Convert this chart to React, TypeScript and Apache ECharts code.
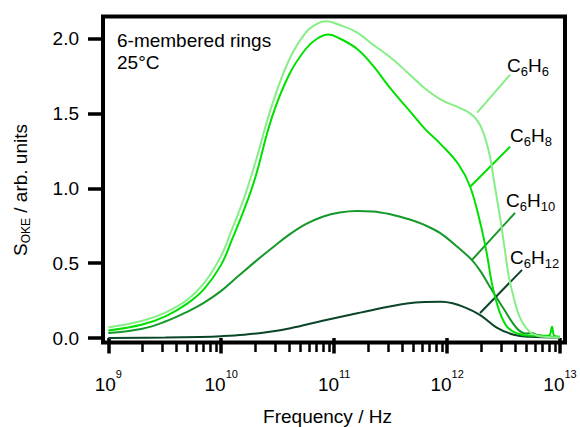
import React, { useEffect, useRef } from "react";
import * as echarts from "echarts";

const FONT = "'Liberation Sans', Arial, Helvetica, sans-serif";

// Frequencies in GHz, OKE spectral density in arb. units
const freqC6H6 = [1, 2, 3.2, 5, 7.1, 10, 12.5, 16, 20, 28, 40, 56, 71, 85, 112, 160, 220, 320, 450, 630, 890, 1260, 1600, 1860, 2100, 2400, 2600, 2950, 3200, 3500, 3800, 4200, 4600, 5400, 6300, 7600, 10000];
const valC6H6 = [0.07, 0.115, 0.17, 0.255, 0.37, 0.55, 0.73, 0.94, 1.17, 1.55, 1.86, 2.04, 2.1, 2.115, 2.09, 2.04, 1.96, 1.87, 1.77, 1.67, 1.59, 1.54, 1.5, 1.45, 1.37, 1.21, 1.05, 0.8, 0.62, 0.42, 0.3, 0.18, 0.11, 0.04, 0.015, 0.007, 0.004];

const freqC6H8 = [1, 2, 3.2, 5, 7.1, 10, 12.5, 16, 20, 28, 40, 56, 71, 89, 112, 160, 220, 320, 450, 630, 890, 1260, 1600, 1950, 2240, 2500, 2900, 3400, 4200, 5600, 7600, 8100, 8500, 8900, 10000];
const valC6H8 = [0.05, 0.09, 0.145, 0.23, 0.33, 0.49, 0.66, 0.86, 1.07, 1.47, 1.76, 1.93, 2.0, 2.027, 2.0, 1.93, 1.82, 1.66, 1.53, 1.4, 1.29, 1.16, 1.01, 0.78, 0.57, 0.36, 0.18, 0.075, 0.03, 0.015, 0.015, 0.02, 0.075, 0.015, 0.008];

const freqC6H10 = [1, 2, 3.2, 5, 7, 10, 14, 20, 28, 40, 56, 79, 112, 160, 220, 320, 450, 630, 870, 1230, 1660, 2000, 2400, 3200, 4200, 5000, 5600, 6300, 7900, 10000];
const valC6H10 = [0.033, 0.062, 0.11, 0.175, 0.235, 0.315, 0.41, 0.51, 0.6, 0.69, 0.76, 0.81, 0.838, 0.848, 0.845, 0.825, 0.795, 0.755, 0.7, 0.61, 0.52, 0.44, 0.34, 0.19, 0.06, 0.03, 0.033, 0.02, 0.01, 0.005];

const freqC6H12 = [1, 3.2, 6.5, 10, 16, 26, 41, 79, 160, 310, 440, 630, 890, 1120, 1380, 1950, 2750, 3900, 5400, 10000];
const valC6H12 = [0.0, 0.003, 0.007, 0.012, 0.022, 0.04, 0.065, 0.115, 0.165, 0.21, 0.23, 0.24, 0.242, 0.232, 0.21, 0.155, 0.07, 0.022, 0.008, 0.003];

// Axis ticks
const majorExponents = [9, 10, 11, 12, 13];
const minorMultipliers = [2, 3, 4, 5, 6, 7, 8, 9];
const yTicks = [0, 0.5, 1.0, 1.5, 2.0];

// Series labels (C6Hn) and colours
const hCounts = ["6", "8", "10", "12"];
const colors = ["#86ee86", "#00e000", "#15982a", "#0b4528"];

// Leader lines and label anchors (GHz, value)
const leaderStartGHz = [1845, 1600, 1663, 1959];
const leaderStartVal = [1.505, 1.01, 0.522, 0.167];
const leaderEndGHz = [3614, 3614, 4000, 4613];
const leaderEndVal = [1.759, 1.278, 0.836, 0.455];
const labelGHz = [3396, 3614, 3327, 3614];
const labelVal = [1.817, 1.35, 0.92, 0.535];

const lx = (ghz: number) => 9 + Math.log10(ghz);

export default function App() {
  const ref = useRef<HTMLDivElement>(null);
  useEffect(() => {
    document.body.style.margin = "0";
    const chart = echarts.init(ref.current!, null, { renderer: "svg" });

    const freqs = [freqC6H6, freqC6H8, freqC6H10, freqC6H12];
    const vals = [valC6H6, valC6H8, valC6H10, valC6H12];

    const minorTicks: number[] = [];
    for (let e = 9; e < 13; e++) {
      for (const m of minorMultipliers) minorTicks.push(e + Math.log10(m));
    }

    const xMin = 8.953;
    const xMax = 13.044;

    const series: any[] = [];
    for (let k = 3; k >= 0; k--) {
      series.push({
        type: "line",
        name: "C6H" + hCounts[k],
        xAxisIndex: 0,
        data: freqs[k].map((g, i) => [lx(g), vals[k][i]]),
        showSymbol: false,
        smooth: 0.4,
        lineStyle: { color: colors[k], width: 2 },
        itemStyle: { color: colors[k] },
        z: 3 + (3 - k),
        markLine: {
          silent: true,
          symbol: ["none", "none"],
          lineStyle: { color: colors[k], width: 2, type: "solid" },
          label: { show: false },
          emphasis: { disabled: true },
          data: [
            [
              { coord: [lx(leaderStartGHz[k]), leaderStartVal[k]] },
              { coord: [lx(leaderEndGHz[k]), leaderEndVal[k]] },
            ],
          ],
        },
        markPoint: {
          silent: true,
          symbol: "circle",
          symbolSize: 0,
          label: {
            show: true,
            position: "right",
            distance: 0,
            color: "#000",
            fontFamily: FONT,
            formatter: `{b|C}{s|6}{b|H}{s|${hCounts[k]}}`,
            rich: {
              b: { fontSize: 19, lineHeight: 19, fontFamily: FONT, color: "#000" },
              s: { fontSize: 13, padding: [12, 0, 0, 0], fontFamily: FONT, color: "#000" },
            },
          },
          data: [{ coord: [lx(labelGHz[k]), labelVal[k]] }],
        },
      });
    }

    const option: any = {
      animation: false,
      backgroundColor: "#fff",
      grid: {
        left: 103,
        right: 15,
        top: 16.5,
        bottom: 84.5,
        show: true,
        borderColor: "#000",
        borderWidth: 4,
        backgroundColor: "transparent",
        containLabel: false,
        outerBoundsMode: "none",
      },
      xAxis: [
        {
          type: "value",
          min: xMin,
          max: xMax,
          position: "bottom",
          splitLine: { show: false },
          axisLine: { show: false },
          axisTick: {
            show: true,
            inside: false,
            length: 15.5,
            customValues: majorExponents,
            lineStyle: { color: "#000", width: 3.5 },
          },
          axisLabel: {
            show: true,
            customValues: majorExponents,
            margin: 26,
            color: "#000",
            fontFamily: FONT,
            formatter: (v: number) => `{b|10}{s|${Math.round(v)}}`,
            rich: {
              b: { fontSize: 19, lineHeight: 19, fontFamily: FONT, color: "#000" },
              s: { fontSize: 11, padding: [0, 0, 20, 0], fontFamily: FONT, color: "#000" },
            },
          },
          name: "Frequency / Hz",
          nameLocation: "middle",
          nameGap: 64,
          nameTextStyle: {
            fontSize: 19,
            fontFamily: FONT,
            color: "#000",
            padding: [0, 13, 0, 0],
          },
        },
        {
          type: "value",
          min: xMin,
          max: xMax,
          position: "bottom",
          gridIndex: 0,
          splitLine: { show: false },
          axisLine: { show: false },
          axisLabel: { show: false },
          axisTick: {
            show: true,
            inside: false,
            length: 9.5,
            customValues: minorTicks,
            lineStyle: { color: "#000", width: 2.5 },
          },
        },
      ],
      yAxis: {
        type: "value",
        min: -0.03,
        max: 2.147,
        splitLine: { show: false },
        axisLine: { show: false },
        axisTick: {
          show: true,
          inside: false,
          length: 15,
          customValues: yTicks,
          lineStyle: { color: "#000", width: 3.5 },
        },
        axisLabel: {
          show: true,
          customValues: yTicks,
          margin: 24,
          color: "#000",
          fontSize: 19,
          fontFamily: FONT,
          formatter: (v: number) => v.toFixed(1),
        },
      },
      graphic: [
        {
          type: "text",
          left: 117,
          top: 30.5,
          style: {
            text: "6-membered rings",
            fontSize: 19,
            fontFamily: FONT,
            fill: "#000",
          },
        },
        {
          type: "text",
          left: 117,
          top: 52.5,
          style: {
            text: "25°C",
            fontSize: 19,
            fontFamily: FONT,
            fill: "#000",
          },
        },
        {
          type: "text",
          x: 20,
          y: 190,
          rotation: Math.PI / 2,
          style: {
            text: "{b|S}{s|OKE}{b| / arb. units}",
            align: "center",
            verticalAlign: "middle",
            fill: "#000",
            fontFamily: FONT,
            rich: {
              b: { fontSize: 19, lineHeight: 19, fontFamily: FONT, fill: "#000" },
              s: { fontSize: 12, padding: [11, 0, 0, 0], fontFamily: FONT, fill: "#000" },
            },
          },
        },
      ],
      series,
    };

    chart.setOption(option);
    return () => chart.dispose();
  }, []);
  return <div ref={ref} style={{ width: 580, height: 427 }} />;
}
